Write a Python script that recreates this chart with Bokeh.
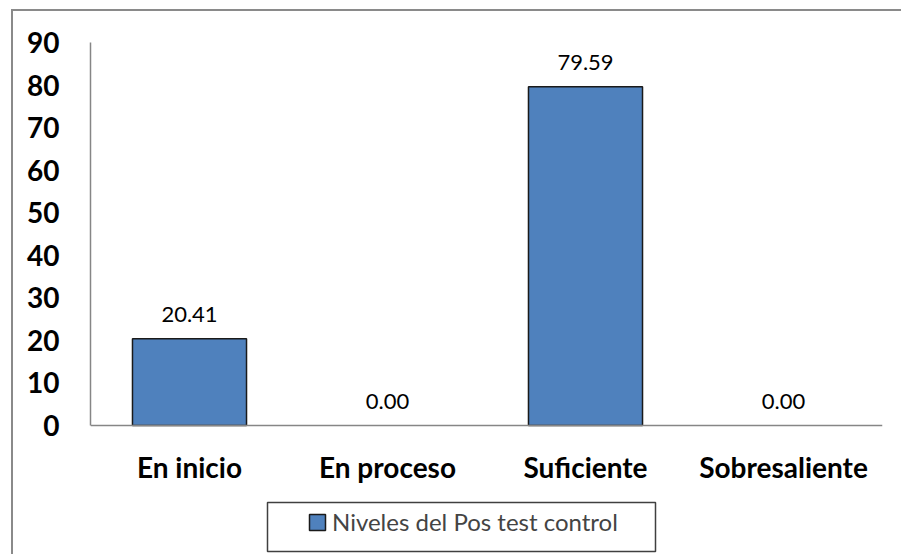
from bokeh.plotting import figure
from bokeh.models import (ColumnDataSource, FactorRange, Range1d, LabelSet, Legend, LegendItem,
                          FixedTicker, BoxAnnotation, CDSView, BooleanFilter)
from bokeh.core.properties import value
from bokeh.embed import file_html
from bokeh.resources import INLINE

categories = ["En inicio", "En proceso", "Suficiente", "Sobresaliente"]
values = [20.41, 0.00, 79.59, 0.00]
series_name = "Niveles del Pos test control"
y_ticks = [0, 10, 20, 30, 40, 50, 60, 70, 80, 90]

FONT = "Lato"
source = ColumnDataSource(dict(cat=categories, val=values, lab=[f"{v:.2f}" for v in values]))

# frame extends below the x axis so that the legend sits inside it
p = figure(width=890, height=545, x_range=FactorRange(*categories), y_range=Range1d(-30.78, 90),
           output_backend="svg", toolbar_location=None,
           min_border_left=77, min_border_right=21, min_border_top=31, min_border_bottom=0)
p.margin = (9, 0, 0, 11)
p.styles = {"border-left": "2px solid #8a8a8a", "border-top": "2px solid #8a8a8a"}
p.outline_line_color = None
p.grid.grid_line_color = None

# zero-height bars are not drawn (as in the original chart)
view = CDSView(filter=BooleanFilter([v > 0 for v in values]))
r = p.vbar(x="cat", top="val", width=0.576, source=source, view=view, fill_color="#4F81BD",
           line_color="#1a1a1a", line_width=1.5)

p.yaxis.ticker = FixedTicker(ticks=y_ticks)
p.yaxis.bounds = (0, 90)
p.xaxis.fixed_location = 0
for ax in (p.xaxis[0], p.yaxis[0]):
    ax.axis_line_color = "#868686"
    ax.axis_line_width = 1.5
    ax.major_tick_line_color = None
    ax.minor_tick_line_color = None
    ax.major_label_text_font = FONT
    ax.major_label_text_font_style = "bold"
    ax.major_label_text_font_size = "28px"
    ax.major_label_text_color = "black"
p.yaxis.major_label_standoff = 25
p.xaxis.major_label_standoff = 18

labels = LabelSet(x="cat", y="val", text="lab", source=source, text_align="center",
                  text_baseline="alphabetic", y_offset=17, text_font=value(FONT),
                  text_font_size="22px", text_color="black")
p.add_layout(labels)

box = BoxAnnotation(left=177, right=565, bottom=5, top=54,
                    left_units="screen", right_units="screen", top_units="screen", bottom_units="screen",
                    fill_alpha=0, line_color="#404040", line_alpha=1.0, line_width=1.5)
p.add_layout(box)

legend = Legend(items=[LegendItem(label=series_name, renderers=[r])], location=(217, 20),
                orientation="horizontal", padding=0, margin=0, glyph_width=20, glyph_height=20,
                label_height=20, label_standoff=5, label_text_font=FONT, label_text_font_size="24px",
                border_line_alpha=0, background_fill_alpha=0)
p.add_layout(legend, "center")

open("out.html", "w").write(file_html(p, INLINE))
